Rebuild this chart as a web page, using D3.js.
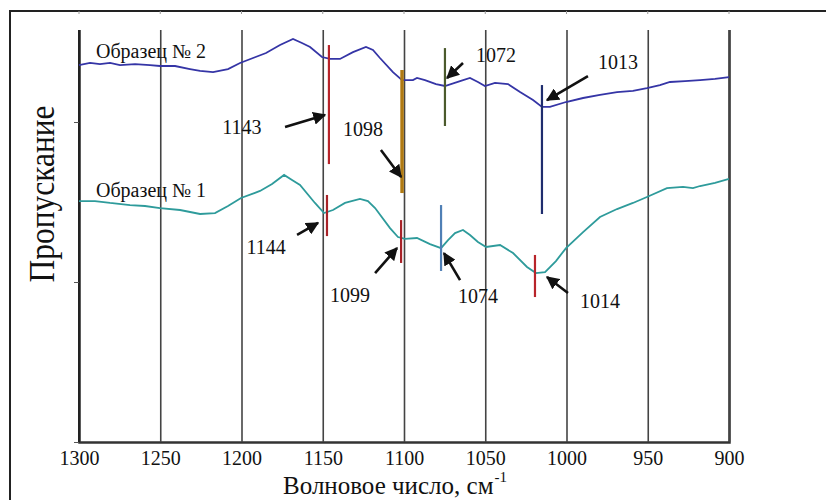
<!DOCTYPE html>
<html><head><meta charset="utf-8">
<script src="https://cdn.jsdelivr.net/npm/d3@7/dist/d3.min.js"></script>
<style>
html,body{margin:0;padding:0;background:#fff;}
svg{display:block;}
text{font-family:"Liberation Serif","Times New Roman",serif;fill:#111;}
</style></head>
<body>
<svg id="chart" width="826" height="500"></svg>
<script>
// ---- data ----
const xTicks = [1300, 1250, 1200, 1150, 1100, 1050, 1000, 950, 900];
const yTicks = [0, 1, 2];
const seriesNames = ["Образец № 2", "Образец № 1"];
const seriesLabelT = [2.444, 1.575];

const sample2Wn = [1300,1293.2,1287.1,1280.9,1274.8,1265.5,1256.3,1250.2,1240.9,1231.7,1225.5,1217.5,1208.3,1200.9,1192.9,1184.9,1176.3,1168.3,1162.8,1157.8,1150.5,1145.5,1139.4,1131.4,1123.4,1119.1,1114.8,1106.8,1101.2,1094.5,1092.0,1087.1,1080.3,1074.8,1065.5,1059.4,1054.5,1050.2,1044.0,1036.0,1028.6,1020.6,1015.1,1010.2,1000.3,989.8,979.4,968.9,959.1,950.5,942.5,936.3,927.1,917.8,908.6,900];
const sample2T  = [2.356,2.369,2.362,2.369,2.356,2.362,2.356,2.350,2.350,2.331,2.319,2.312,2.331,2.369,2.400,2.431,2.481,2.519,2.494,2.469,2.406,2.394,2.394,2.437,2.469,2.450,2.400,2.312,2.262,2.262,2.275,2.262,2.237,2.225,2.256,2.275,2.250,2.225,2.244,2.237,2.187,2.137,2.094,2.094,2.125,2.150,2.169,2.187,2.194,2.212,2.231,2.250,2.256,2.262,2.269,2.281];

const sample1Wn = [1300,1290.2,1280.9,1268.6,1259.4,1250.2,1237.8,1225.5,1216.3,1208.3,1200.3,1188.6,1181.2,1173.8,1168.9,1164.0,1154.8,1149.2,1143.7,1136.3,1127.1,1122.2,1117.8,1108.6,1103.7,1099.4,1092.0,1084.0,1077.2,1072.9,1068.6,1063.7,1059.4,1054.5,1049.5,1040.9,1032.9,1024.3,1018.8,1013.2,1006.5,1000.3,989.8,979.4,968.9,959.1,950.5,938.2,928.3,922.2,917.8,908.6,900];
const sample1T  = [1.506,1.506,1.494,1.481,1.475,1.462,1.450,1.425,1.431,1.475,1.525,1.569,1.612,1.669,1.637,1.606,1.494,1.431,1.450,1.494,1.519,1.506,1.462,1.337,1.281,1.269,1.275,1.237,1.212,1.262,1.306,1.325,1.294,1.250,1.219,1.231,1.181,1.094,1.056,1.062,1.131,1.212,1.312,1.406,1.456,1.494,1.531,1.587,1.594,1.587,1.600,1.619,1.644];

// peak annotations
const peakLabels = ["1143","1098","1072","1013","1144","1099","1074","1014"];
const markerWn   = [1146.2,1101.2,1074.8,1015.1,1147.4,1101.8,1077.2,1019.4];
const markerTop  = [2.481,2.325,2.462,2.231,1.544,1.387,1.481,1.169];
const markerBot  = [1.737,1.556,1.975,1.425,1.287,1.119,1.069,0.906];
const markerColors = ["#b8242a","#b07a12","#4b5a2c","#1f2d6e","#a82228","#a82228","#4f7fb5","#b8242a"];
const labelWn    = [1199.7,1125.2,1043.4,968.3,1184.9,1133.2,1054.5,979.4];
const labelT     = [1.969,1.956,2.419,2.375,1.219,0.919,0.912,0.881];
const arrowFromWn = [1173.2,1114.2,1063.7,986.8,1165.8,1117.8,1065.5,999.1];
const arrowFromT  = [1.969,1.825,2.369,2.287,1.294,1.056,1.012,0.931];
const arrowToWn   = [1148.6,1101.8,1073.5,1012.0,1152.9,1104.3,1075.4,1012.0];
const arrowToT    = [2.044,1.656,2.275,2.137,1.369,1.212,1.181,1.031];

// ---- drawing ----
const svg = d3.select("#chart");
const x = d3.scaleLinear().domain([1300, 900]).range([79, 729]);
const y = d3.scaleLinear().domain([0, 1]).range([442, 282]);
const yTop = 30;

// outer frame (left and top edges)
svg.append("path").attr("d","M10,500 L10,11 L826,11").attr("fill","none").attr("stroke","#222").attr("stroke-width",2);
svg.append("g").selectAll("line").data(xTicks).join("line")
  .attr("x1",d=>x(d)).attr("x2",d=>x(d)).attr("y1",11).attr("y2",14)
  .attr("stroke","#999").attr("stroke-width",1);

// x axis with gridlines
const xAxis = d3.axisBottom(x).tickValues(xTicks).tickSize(-(y(0)-yTop)).tickFormat(d3.format("d")).tickPadding(7);
const gx = svg.append("g").attr("transform",`translate(0,${y(0)})`).call(xAxis);
gx.select(".domain").attr("stroke","#333").attr("stroke-width",2.5);
gx.selectAll(".tick line").attr("stroke","#444").attr("stroke-width",1.6);
gx.selectAll(".tick text").attr("font-size",20).attr("font-family","Liberation Serif, serif").attr("fill","#111").attr("dy","0.8em");

// y axis
const yAxis = d3.axisLeft(y).tickValues(yTicks).tickSize(5).tickFormat("");
const gy = svg.append("g").attr("transform","translate(79,0)").call(yAxis);
gy.select(".domain").attr("d",`M0,${y(0)}V${yTop}`).attr("stroke","#222").attr("stroke-width",2);
gy.selectAll(".tick line").attr("stroke","#555").attr("stroke-width",1);

// curves
const line = d3.line().x(d=>x(d[0])).y(d=>y(d[1]));
const s2 = sample2Wn.map((w,i)=>[w,sample2T[i]]);
const s1 = sample1Wn.map((w,i)=>[w,sample1T[i]]);
svg.append("path").datum(s2).attr("d",line).attr("fill","none").attr("stroke","#3535a6").attr("stroke-width",1.8);
svg.append("path").datum(s1).attr("d",line).attr("fill","none").attr("stroke","#2e9b9b").attr("stroke-width",1.8);

// series labels
svg.append("g").selectAll("text").data(seriesNames).join("text")
  .attr("x",96).attr("y",(d,i)=>y(seriesLabelT[i])).attr("dy","0.35em").attr("font-size",20).text(d=>d);

// markers
svg.append("g").selectAll("line").data(peakLabels).join("line")
  .attr("x1",(d,i)=>x(markerWn[i])).attr("x2",(d,i)=>x(markerWn[i]))
  .attr("y1",(d,i)=>y(markerTop[i])).attr("y2",(d,i)=>y(markerBot[i]))
  .attr("stroke",(d,i)=>markerColors[i]).attr("stroke-width",(d,i)=>i===1?3.5:2.2);

// arrows
const defs = svg.append("defs");
defs.append("marker").attr("id","ah").attr("viewBox","0 0 10 10").attr("refX",9).attr("refY",5)
  .attr("markerWidth",5).attr("markerHeight",5).attr("markerUnits","strokeWidth").attr("orient","auto")
  .append("path").attr("d","M0,0 L10,5 L0,10 z").attr("fill","#111");
svg.append("g").selectAll("line").data(peakLabels).join("line")
  .attr("x1",(d,i)=>x(arrowFromWn[i])).attr("y1",(d,i)=>y(arrowFromT[i]))
  .attr("x2",(d,i)=>x(arrowToWn[i])).attr("y2",(d,i)=>y(arrowToT[i]))
  .attr("stroke","#111").attr("stroke-width",2.6).attr("marker-end","url(#ah)");

// peak labels
svg.append("g").selectAll("text").data(peakLabels).join("text")
  .attr("x",(d,i)=>x(labelWn[i])).attr("y",(d,i)=>y(labelT[i])).attr("dy","0.35em")
  .attr("text-anchor","middle").attr("font-size",20).text(d=>d);

// axis titles
const xt = svg.append("text").attr("x",395).attr("y",494).attr("text-anchor","middle").attr("font-size",25);
xt.append("tspan").text("Волновое число, см");
xt.append("tspan").attr("dy",-12).attr("dx",1).attr("font-size",15).text("-1");

svg.append("text").attr("transform","translate(54,194) rotate(-90)").attr("text-anchor","middle")
  .attr("font-size",35).attr("textLength",177).attr("lengthAdjust","spacingAndGlyphs").text("Пропускание");
</script>
</body></html>
